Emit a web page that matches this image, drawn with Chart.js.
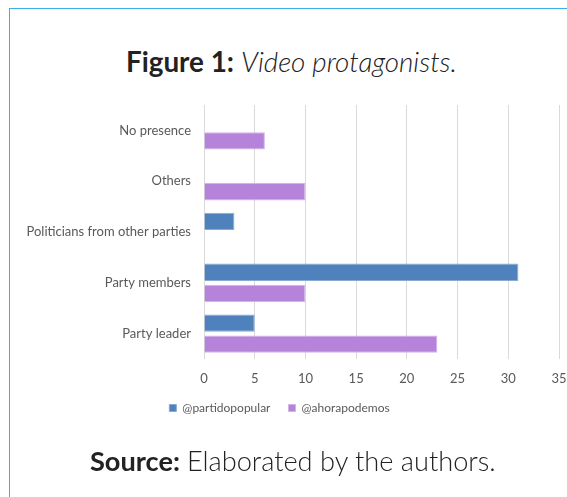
<!DOCTYPE html>
<html>
<head>
<meta charset="utf-8">
<script src="https://cdn.jsdelivr.net/npm/chart.js@4/dist/chart.umd.min.js"></script>
<style>
  body { margin: 0; background: #fff; }
  #wrap { position: relative; width: 567px; height: 497px; overflow: hidden; font-family: Lato, "Open Sans", sans-serif; color: #222; }
  #frame { position: absolute; left: 9px; top: 8px; width: 600px; height: 600px; border-left: 1.5px solid #3cb0e4; border-top: 1.5px solid #3cb0e4; }
  #chartBox { position: absolute; left: 0; top: 0; width: 567px; height: 497px; }
  .cap { position: absolute; white-space: nowrap; line-height: 1.2; }
  #title { top: 45px; left: 126px; font-size: 27.8px; }
  #title i { font-weight: 300; }
  #source { top: 445px; left: 90px; font-size: 27.2px; }
  #source span { font-weight: 300; }
</style>
</head>
<body>
<div id="wrap">
  <div id="frame"></div>
  <div id="title" class="cap"><b>Figure 1:</b> <i>Video protagonists.</i></div>
  <div id="chartBox"><canvas id="protagonists"></canvas></div>
  <div id="source" class="cap"><b>Source:</b> <span>Elaborated by the authors.</span></div>
</div>
<script>
var categories = ['No presence', 'Others', 'Politicians from other parties', 'Party members', 'Party leader'];
var partidoPopular = [0, 0, 3, 31, 5];
var ahoraPodemos = [6, 10, 0, 10, 23];
var xTicks = [0, 5, 10, 15, 20, 25, 30, 35];

var ctx = document.getElementById('protagonists').getContext('2d');
var myChart = new Chart(ctx, {
  type: 'bar',
  data: {
    labels: categories,
    datasets: [{
      label: '@partidopopular',
      data: partidoPopular,
      backgroundColor: '#4f81bd',
      borderColor: '#8aaad3',
      borderWidth: 1,
      categoryPercentage: 0.83,
      barPercentage: 0.82
    }, {
      label: '@ahorapodemos',
      data: ahoraPodemos,
      backgroundColor: '#b583d9',
      borderColor: '#d2b3e8',
      borderWidth: 1,
      categoryPercentage: 0.83,
      barPercentage: 0.82
    }]
  },
  options: {
    indexAxis: 'y',
    responsive: true,
    maintainAspectRatio: false,
    animation: false,
    layout: { padding: { top: 105, left: 0, right: 8, bottom: 73 } },
    plugins: {
      title: { display: false },
      tooltip: { enabled: false },
      legend: {
        position: 'bottom',
        labels: {
          boxWidth: 7,
          boxHeight: 7,
          padding: 18,
          color: '#595959',
          font: { family: 'Lato', size: 12 }
        }
      }
    },
    scales: {
      x: {
        min: 0,
        max: 35,
        afterBuildTicks: function(axis) {
          axis.ticks = xTicks.map(function(v) { return { value: v }; });
        },
        grid: { color: '#d9d9d9', drawTicks: false },
        border: { display: false },
        ticks: { padding: 12, color: '#595959', font: { family: 'Lato', size: 13 } },
        afterFit: function(axis) {
          axis.height = 25;
          axis.paddingRight = 0;
          axis.paddingLeft = 0;
        }
      },
      y: {
        grid: { display: false },
        border: { display: false },
        ticks: { padding: 5, color: '#595959', font: { family: 'Lato', size: 13 } },
        afterFit: function(axis) { axis.width = 204; }
      }
    }
  }
});
</script>
</body>
</html>
